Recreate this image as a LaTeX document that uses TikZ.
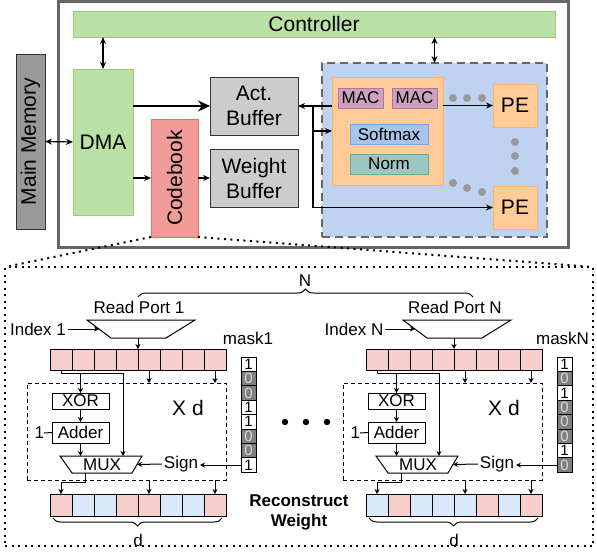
\documentclass[tikz,border=0pt]{standalone}
\usepackage{fontspec}
\setmainfont{Liberation Sans}
\usepackage{tikz}
\usetikzlibrary{arrows.meta,calc,decorations.pathreplacing}

\definecolor{ctrlfill}{HTML}{B9E0A5}
\definecolor{ctrlline}{HTML}{97D077}
\definecolor{memfill}{HTML}{999999}
\definecolor{buffill}{HTML}{CCCCCC}
\definecolor{cbfill}{HTML}{F19C99}
\definecolor{cbline}{HTML}{EA6B66}
\definecolor{arrfill}{HTML}{BFD2EF}
\definecolor{pefill}{HTML}{FFCC99}
\definecolor{peline}{HTML}{FFB366}
\definecolor{macfill}{HTML}{CDA2BE}
\definecolor{macline}{HTML}{B5739D}
\definecolor{smfill}{HTML}{A9C4EB}
\definecolor{smline}{HTML}{7EA6E0}
\definecolor{normfill}{HTML}{9AC7BF}
\definecolor{normline}{HTML}{67AB9F}
\definecolor{cellp}{HTML}{F8CECC}
\definecolor{cellb}{HTML}{DAE8FC}
\definecolor{bitgray}{HTML}{808080}
\definecolor{bittext}{HTML}{D9D9D9}

\newcommand{\bigfont}{\fontsize{21}{25}\selectfont}
\newcommand{\midfont}{\fontsize{17}{20}\selectfont}
\newcommand{\bitfont}{\fontsize{15}{15}\selectfont}

\begin{document}
\begin{tikzpicture}[x=1pt, y=-1pt,
    every node/.style={inner sep=0pt, outer sep=0pt},
    >={Stealth[length=7pt, width=6pt]},
    frame/.style={draw=black!60, line width=3pt},
    greenbox/.style={draw=ctrlline, fill=ctrlfill, line width=0.8pt, font=\bigfont},
    membox/.style={draw=black!80, fill=memfill, line width=1pt, font=\bigfont},
    bufbox/.style={draw=black!80, fill=buffill, line width=1pt, font=\bigfont, align=center},
    cbbox/.style={draw=cbline, fill=cbfill, line width=0.8pt, font=\bigfont},
    arrbox/.style={draw=black!60, fill=arrfill, line width=2.5pt, dash pattern=on 8pt off 5pt},
    pebox/.style={draw=peline, fill=pefill, line width=0.8pt, font=\bigfont},
    macbox/.style={draw=macline, fill=macfill, line width=0.8pt, font=\midfont},
    smbox/.style={draw=smline, fill=smfill, line width=0.8pt, font=\midfont},
    normbox/.style={draw=normline, fill=normfill, line width=0.8pt, font=\midfont},
    wire/.style={line width=1.2pt},
    thinwire/.style={line width=1pt, >={Stealth[length=5pt, width=5pt]}},
    bigtip/.style={>={Stealth[length=12pt, width=11pt]}},
    midtext/.style={font=\midfont, inner sep=2pt},
    cell/.style={draw, line width=1pt, minimum width=22, minimum height=21},
    bitcell/.style={draw, line width=1pt, minimum width=15, minimum height=14.4, font=\bitfont},
    bit1/.style={fill=white, text=black},
    bit0/.style={fill=bitgray, text=bittext},
    opbox/.style={draw, fill=white, line width=1pt, font=\midfont},
    repbox/.style={draw, line width=1pt, dash pattern=on 4pt off 3pt},
    zoomline/.style={line width=2pt, dash pattern=on 2pt off 4.5pt},
    brace/.style={line width=1pt, decorate, decoration={brace, amplitude=8pt}},
    pedot/.style={fill=black!40}]
    \useasboundingbox (0,0) rectangle (597,552);

    % -------------------------
    % Accelerator top level
    % -------------------------
    \draw[frame] (58,1) rectangle (568,247);

    \node[greenbox, minimum width=482, minimum height=26] (ctrl) at (314,24) {Controller};
    \node[greenbox, minimum width=60, minimum height=146] (dma) at (103,142) {DMA};
    \node[membox, minimum width=29, minimum height=175] (mem) at (30.5,141.5) {\rotatebox{90}{Main Memory}};
    \node[bufbox, minimum width=88, minimum height=58] (act) at (254,106) {Act.\\Buffer};
    \node[bufbox, minimum width=88, minimum height=58] (wgt) at (254,178) {Weight\\Buffer};
    \node[cbbox, minimum width=47, minimum height=118] (cb) at (174.5,178) {\rotatebox{90}{Codebook}};

    % PE array
    \node[arrbox, minimum width=225, minimum height=174] (pearr) at (434.5,150) {};
    \node[pebox, minimum width=111, minimum height=108] (core) at (387.5,131) {};
    \node[macbox, minimum width=45, minimum height=20] (mac1) at (360.5,98) {MAC};
    \node[macbox, minimum width=45, minimum height=20] (mac2) at (414.5,98) {MAC};
    \node[smbox, minimum width=78, minimum height=20] (smax) at (389,134) {Softmax};
    \node[normbox, minimum width=78, minimum height=20] (norm) at (389,164) {Norm};
    \node[pebox, minimum width=44, minimum height=43] (pe1) at (515,105.5) {PE};
    \node[pebox, minimum width=44, minimum height=43] (pe2) at (515,207.5) {PE};

    % dots between the PEs
    \foreach \px/\py in {453/98, 467/98, 482/98, 515/142, 515/156, 515/171, 453/183, 467/188, 482/192}
        \fill[pedot] (\px,\py) circle[radius=4pt];

    % data paths
    \draw[wire, <->] (ctrl.south -| dma.north) -- (dma.north);
    \draw[wire, <->] (ctrl.south -| pearr.north) -- (pearr.north);
    \draw[wire, <->] (mem.east) -- (dma.west);
    \draw[wire, ->, bigtip] (dma.east |- act.west) -- (act.west);
    \draw[wire, ->] (dma.east |- cb.west) -- (cb.west);
    \draw[wire, ->] (cb.east) -- (wgt.west);
    \draw[wire, ->] (core.west |- act.east) -- (act.east);
    \coordinate (split) at (313,106);
    \draw[wire, ->] (split) |- (core.west);
    \draw[wire, ->] (split) |- (pe2.west);
    \draw[wire, ->] (core.east |- pe1.west) -- (pe1.west);

    % -------------------------
    % Codebook detail
    % -------------------------
    \node[zoomline, draw, minimum width=588, minimum height=279] (detail) at (299,406.5) {};
    \draw[zoomline] (cb.south west) -- (detail.north west);
    \draw[zoomline] (cb.south east) -- (detail.north east);

    \draw[brace] (138,297) -- (473,297);
    \node[midtext] (nlab) at (305,281) {N};

    \foreach \u/\dx/\mask/\rec in {1/0/{1,0,0,1,1,0,0,1}/{p,b,b,p,p,b,b,p},
                                   N/316/{1,0,1,0,0,0,1,0}/{b,p,b,b,b,p,b,p}} {
    \begin{scope}[xshift=\dx pt]
        % read port
        \coordinate (rp\u-tl) at (87,320);
        \coordinate (rp\u-tr) at (195,320);
        \coordinate (rp\u-br) at (166,338);
        \coordinate (rp\u-bl) at (111,338);
        \coordinate (rp\u-bot) at (138,338);
        \draw[line width=1pt] (rp\u-tl) -- (rp\u-tr) -- (rp\u-br) -- (rp\u-bl) -- cycle;
        \node[midtext] (rpname\u) at (139,307) {Read Port \u};
        \node[midtext] (idx\u) at (38,329) {Index \u};
        \draw[thinwire, ->] (idx\u.east) -- ($(rp\u-tl)!0.5!(rp\u-bl)$);

        % codeword register
        \foreach \i in {1,...,8}
            \node[cell, fill=cellp] (reg\u-\i) at (39+22*\i,359.5) {};
        \draw[thinwire, ->] (rp\u-bot) -- (reg\u-4.north east);

        % sign mask
        \node[midtext, anchor=east] (mlab\u) at (275,338) {mask\u};
        \foreach \b [count=\i] in \mask
            \node[bitcell, bit\b] (bit\u-\i) at (248.5,349.8+14.4*\i) {\b};

        % per element logic, repeated d times
        \node[repbox, minimum width=199, minimum height=97] (rep\u) at (126.5,431.5) {};
        \node[font=\fontsize{21}{21}\selectfont] (xd\u) at (188,408) {X d};
        \node[opbox, minimum width=57, minimum height=16] (xor\u) at (80.5,401) {XOR};
        \node[opbox, minimum width=57, minimum height=21] (add\u) at (80.5,432.5) {Adder};
        \node[font=\midfont, anchor=east] (one\u) at (44,433) {1};
        \draw[line width=1pt] (one\u.east) -- (add\u.west);

        \coordinate (mux\u-tl) at (60,456);
        \coordinate (mux\u-tr) at (142,456);
        \coordinate (mux\u-br) at (132,473);
        \coordinate (mux\u-bl) at (72,473);
        \coordinate (mux\u-in) at (123,456);
        \coordinate (mux\u-out) at (85,473);
        \draw[line width=1pt, fill=white] (mux\u-tl) -- (mux\u-tr) -- (mux\u-br) -- (mux\u-bl) -- cycle;
        \node[font=\midfont] (mux\u) at (102,465) {MUX};
        \node[midtext] (sign\u) at (181,464) {Sign};

        \draw[thinwire, ->] (reg\u-5.south) -- (reg\u-5.south |- rep\u.north);
        \draw[thinwire, ->] (reg\u-8.south) -- (reg\u-8.south |- rep\u.north);
        \draw[thinwire, ->] (reg\u-1.south) -- ++(0,3) -| (mux\u-in);
        \draw[thinwire, ->] (reg\u-1.south) ++(0,3) -| (xor\u.north);
        \draw[thinwire, ->] (xor\u.south) -- (add\u.north);
        \draw[thinwire, ->] (add\u.south) -- (add\u.south |- mux\u-tl);
        \draw[thinwire, ->] (sign\u.west) -- ($(mux\u-tr)!0.5!(mux\u-br)$);
        \draw[thinwire, ->] (bit\u-8.west) -- (bit\u-8.west -| sign\u.east);

        % reconstructed weights
        \foreach \r [count=\i] in \rec
            \node[cell, fill=cell\r, minimum height=22] (out\u-\i) at (39+22*\i,505) {};
        \draw[thinwire, ->] (mux\u-out) -- ++(0,9) -| (out\u-1.north);
        \draw[thinwire, ->] (reg\u-5.south |- rep\u.south) -- (out\u-5.north);
        \draw[thinwire, ->] (reg\u-8.south |- rep\u.south) -- (out\u-8.north);
        \draw[brace] ([xshift=-4pt, yshift=-2pt]out\u-8.south east) -- ([xshift=3pt, yshift=-2pt]out\u-1.south west);
        \node[midtext] (d\u) at (138,540) {d};
    \end{scope}
    }

    % more ports in between
    \foreach \px in {285,306,327}
        \fill (\px,422) circle[radius=3.2pt];
    \node[font=\bfseries\midfont, align=center] (recw) at (299,512) {Reconstruct\\Weight};
\end{tikzpicture}
\end{document}
